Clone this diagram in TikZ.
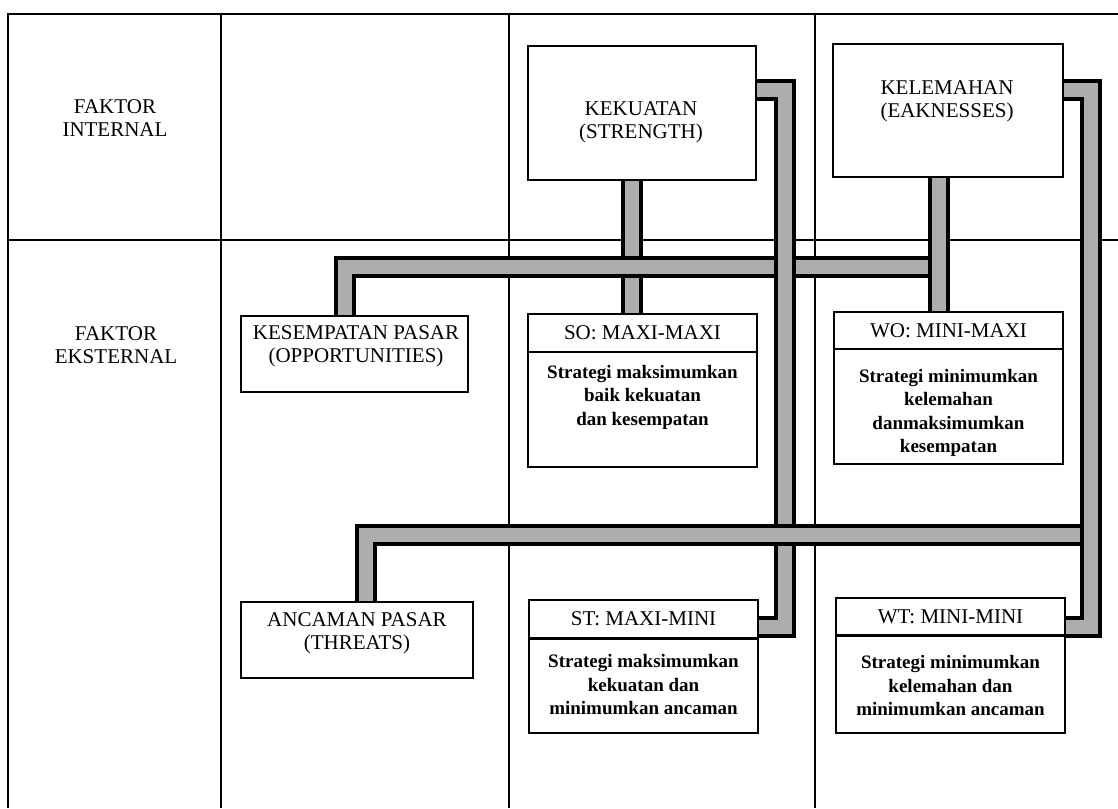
\documentclass[tikz,border=0pt]{standalone}
\usepackage{fontspec}
\setmainfont{Liberation Serif}
\definecolor{pipegray}{gray}{0.68}
\pgfdeclarelayer{gridlayer}
\pgfdeclarelayer{pipelayer}
\pgfsetlayers{gridlayer,pipelayer,main}
\begin{document}
\begin{tikzpicture}[x=1pt,y=-1pt,
  grid/.style={line width=1.3pt},
  box/.style={draw, line width=1.2pt, fill=white, inner sep=0pt},
  divider/.style={line width=1.2pt},
  thickdivider/.style={line width=3pt},
  capt/.style={font=\fontsize{21}{23}\selectfont, align=center, inner sep=0pt},
  body/.style={font=\fontsize{19}{23.5}\selectfont\bfseries, align=center, inner sep=0pt},
  pipe/.style={draw=pipegray, line width=14pt, preaction={draw=black, line width=22pt}},
]
\useasboundingbox (0,0) rectangle (1118,808);

% grid
\begin{pgfonlayer}{gridlayer}
\draw[grid] (8,808) -- (8,14) -- (1118,14);
\draw[grid] (8,240) -- (1118,240);
\draw[grid] (221,14) -- (221,808);
\draw[grid] (509,14) -- (509,808);
\draw[grid] (815,14) -- (815,808);
\end{pgfonlayer}

% boxes
\node[box, minimum width=228pt, minimum height=134pt] (ks) at (642,113) {};
\node[box, minimum width=230pt, minimum height=133pt] (kl) at (948,110.5) {};
\node[box, minimum width=227pt, minimum height=76pt] (ko) at (354.5,354) {};
\node[box, minimum width=232pt, minimum height=76pt] (an) at (357,640) {};
\node[box, minimum width=229pt, minimum height=153pt] (so) at (642.5,390.5) {};
\node[box, minimum width=229pt, minimum height=152pt] (wo) at (948.5,388) {};
\node[box, minimum width=229pt, minimum height=133pt] (st) at (643.5,666.5) {};
\node[box, minimum width=229pt, minimum height=135pt] (wt) at (950.5,665.5) {};

% junction coordinates
\coordinate (sx) at (632,0);
\coordinate (wx) at (939,0);
\coordinate (oj) at (345,267);
\coordinate (tj) at (366,535);
\coordinate (lst) at (785,90);
\coordinate (lsb) at (785,627);
\coordinate (lwt) at (1091,90);
\coordinate (lwb) at (1091,627);

% pipes
\begin{pgfonlayer}{pipelayer}
\draw[pipe] (ks.south -| sx) -- (so.north -| sx);
\draw[pipe] (ko.north -| oj) -- (oj) -- (oj -| wx);
\draw[pipe] (kl.south -| wx) -- (wo.north -| wx);
\draw[pipe] (ks.east |- lst) -- (lst) -- (lsb) -- (st.east |- lsb);
\draw[pipe] (an.north -| tj) -- (tj) -- (tj -| lwt);
\draw[pipe] (kl.east |- lwt) -- (lwt) -- (lwb) -- (wt.east |- lwb);
\end{pgfonlayer}

% header dividers
\coordinate (sod) at (0,352);
\coordinate (wod) at (0,349);
\coordinate (std) at (0,638);
\coordinate (wtd) at (0,635);
\draw[divider] (so.west |- sod) -- (so.east |- sod);
\draw[divider] (wo.west |- wod) -- (wo.east |- wod);
\draw[thickdivider] (st.west |- std) -- (st.east |- std);
\draw[thickdivider] (wt.west |- wtd) -- (wt.east |- wtd);

% texts
\node[capt] (fi) at (115,118) {FAKTOR\\INTERNAL};
\node[capt] (fe) at (116,345) {FAKTOR\\EKSTERNAL};
\node[capt] (kst) at (641,122) {KEKUATAN\\(STRENGTH)};
\node[capt] (klt) at (947,101) {KELEMAHAN\\(EAKNESSES)};
\node[capt] (kot) at (356,346) {KESEMPATAN PASAR\\(OPPORTUNITIES)};
\node[capt] (ant) at (357,633) {ANCAMAN PASAR\\(THREATS)};
\node[capt] (soh) at (642.5,333) {SO: MAXI-MAXI};
\node[body] (sob) at (642.5,397) {Strategi maksimumkan\\baik kekuatan\\dan kesempatan};
\node[capt] (woh) at (948.5,330.5) {WO: MINI-MAXI};
\node[body] (wob) at (948.5,413) {Strategi minimumkan\\kelemahan\\danmaksimumkan\\kesempatan};
\node[capt] (sth) at (643.5,619) {ST: MAXI-MINI};
\node[body] (stb) at (643.5,685) {Strategi maksimumkan\\kekuatan dan\\minimumkan ancaman};
\node[capt] (wth) at (950.5,617) {WT: MINI-MINI};
\node[body] (wtb) at (950.5,686) {Strategi minimumkan\\kelemahan dan\\minimumkan ancaman};
\end{tikzpicture}
\end{document}
